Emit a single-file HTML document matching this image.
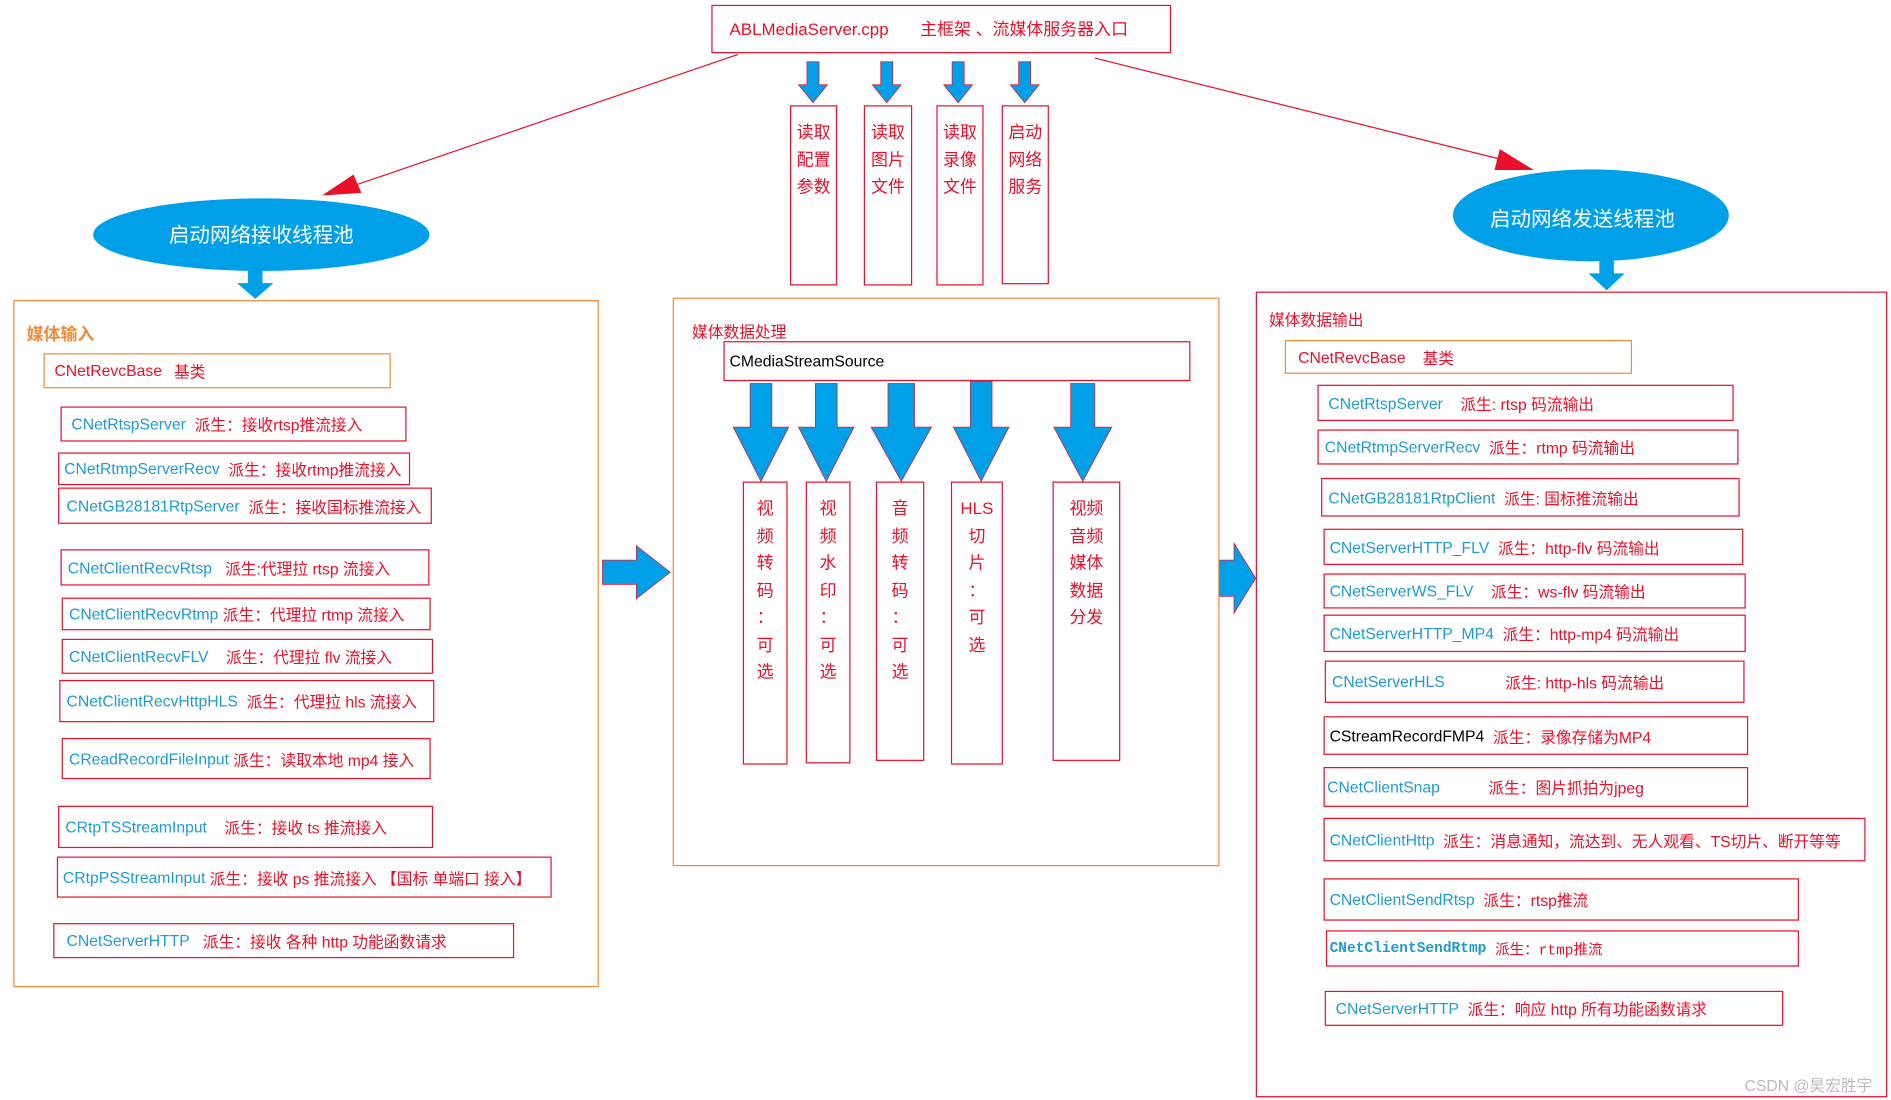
<!DOCTYPE html>
<html><head><meta charset="utf-8"><style>
html,body{margin:0;padding:0;background:#fff;width:1891px;height:1100px;overflow:hidden}
#s{position:absolute;left:0;top:0;width:1563px;height:909px;transform:scale(1.2098);transform-origin:0 0;font-family:"Liberation Sans","Noto Sans CJK SC",sans-serif}
.b{position:absolute;border:1px solid #e8102a;box-sizing:border-box;font-size:13px;white-space:nowrap;color:#e8102a;padding-left:8px;display:flex;align-items:center}
.o{border-color:#f08a3c}
.c{color:#1f9bd0}
.t{position:absolute;font-size:13px;white-space:nowrap}
.v{position:absolute;border:1px solid #e8102a;box-sizing:border-box;color:#e8102a;font-size:14px;text-align:center;line-height:22.5px;padding-top:10px}
svg{position:absolute;left:0;top:0}
</style></head><body><div id="s">
<svg width="1563" height="909">
<g fill="#00a0e9" stroke="#e8102a" stroke-width="0.6">
<path d="M667 51h10v19h7l-12 15-12-15h7z"/>
<path d="M728 51h10v19h7l-12 15-12-15h7z"/>
<path d="M787 51h10v19h7l-12 15-12-15h7z"/>
<path d="M842 51h10v19h7l-12 15-12-15h7z"/>
<path d="M620 317h18v36h14l-23 45-23-45h14z"/>
<path d="M674 317h18v36h14l-23 45-23-45h14z"/>
<path d="M734 317h22v36h14l-25 45-25-45h14z"/>
<path d="M802 315h18v38h14l-23 45-23-45h14z"/>
<path d="M885 317h20v36h14l-24 45-24-45h14z"/>
<path d="M498 463h28v-12l28 22-28 22v-12h-28z"/>
<path d="M1008 463h12v-14l18 29-18 29v-14h-12z"/>
</g>
<g fill="#00a0e9">
<path d="M205 224h12v10h9l-15 13-15-13h9z"/>
<path d="M1322 214h12v12h9l-15 14-15-14h9z"/>
<ellipse cx="216" cy="194" rx="139" ry="30"/>
<ellipse cx="1315" cy="178" rx="114" ry="38"/>
</g>
<g stroke="#e8102a" fill="#e8102a">
<line x1="610" y1="45" x2="285" y2="156" stroke-width="1"/>
<path d="M268 161l24-16 6 14z"/>
<line x1="905" y1="48" x2="1250" y2="134" stroke-width="1"/>
<path d="M1266 140l-26-16-4 16z"/>
</g>
<text x="216" y="200" fill="#fff" font-size="17" text-anchor="middle" font-family="Liberation Sans,Noto Sans CJK SC,sans-serif">启动网络接收线程池</text>
<text x="1308" y="187" fill="#fff" font-size="17" text-anchor="middle" font-family="Liberation Sans,Noto Sans CJK SC,sans-serif">启动网络发送线程池</text>
</svg>
<div class="b" style="left:588px;top:4px;width:380px;height:40px;font-size:14px;padding-left:14px">ABLMediaServer.cpp<span style="margin-left:26px">主框架 、流媒体服务器入口</span></div>
<div class="v" style="left:653px;top:87px;width:39px;height:149px">读取<br>配置<br>参数</div>
<div class="v" style="left:714px;top:87px;width:40px;height:149px">读取<br>图片<br>文件</div>
<div class="v" style="left:774px;top:87px;width:39px;height:149px">读取<br>录像<br>文件</div>
<div class="v" style="left:828px;top:87px;width:39px;height:148px">启动<br>网络<br>服务</div>

<div class="b o" style="left:11px;top:248px;width:484px;height:568px"></div>
<div class="t" style="left:22px;top:266px;color:#f08a3c;font-weight:bold;font-size:14px">媒体输入</div>
<div class="b o" style="left:36px;top:292px;width:287px;height:29px;color:#e8102a">CNetRevcBase<span style="margin-left:10px">基类</span></div>
<div class="b" style="left:50px;top:336px;width:286px;height:29px"><span class="c">CNetRtspServer</span>&nbsp; 派生：接收rtsp推流接入</div>
<div class="b" style="left:48px;top:374px;width:291px;height:27px;padding-left:4px"><span class="c">CNetRtmpServerRecv</span>&nbsp; 派生：接收rtmp推流接入</div>
<div class="b" style="left:48px;top:403px;width:309px;height:30px;padding-left:6px"><span class="c">CNetGB28181RtpServer</span>&nbsp; 派生：接收国标推流接入</div>
<div class="b" style="left:50px;top:454px;width:305px;height:30px;padding-left:5px"><span class="c">CNetClientRecvRtsp</span>&nbsp;&nbsp; 派生:代理拉 rtsp 流接入</div>
<div class="b" style="left:51px;top:494px;width:305px;height:27px;padding-left:5px"><span class="c">CNetClientRecvRtmp</span>&nbsp;派生：代理拉 rtmp 流接入</div>
<div class="b" style="left:51px;top:528px;width:307px;height:29px;padding-left:5px"><span class="c">CNetClientRecvFLV</span>&nbsp;&nbsp;&nbsp; 派生：代理拉 flv 流接入</div>
<div class="b" style="left:49px;top:562px;width:310px;height:35px;padding-left:5px"><span class="c">CNetClientRecvHttpHLS</span>&nbsp; 派生：代理拉 hls 流接入</div>
<div class="b" style="left:51px;top:610px;width:305px;height:34px;padding-left:5px"><span class="c">CReadRecordFileInput</span>&nbsp;派生：读取本地 mp4 接入</div>
<div class="b" style="left:48px;top:666px;width:310px;height:35px;padding-left:5px"><span class="c">CRtpTSStreamInput</span>&nbsp;&nbsp;&nbsp; 派生：接收 ts 推流接入</div>
<div class="b" style="left:47px;top:708px;width:409px;height:34px;padding-left:4px"><span class="c">CRtpPSStreamInput</span>&nbsp;派生：接收 ps 推流接入 【国标 单端口 接入】</div>
<div class="b" style="left:44px;top:763px;width:381px;height:29px;padding-left:10px"><span class="c">CNetServerHTTP</span>&nbsp;&nbsp; 派生：接收 各种 http 功能函数请求</div>

<div class="b o" style="left:556px;top:246px;width:452px;height:470px"></div>
<div class="t" style="left:572px;top:264px;color:#e8102a">媒体数据处理</div>
<div class="b" style="left:598px;top:282px;width:386px;height:33px;color:#000;padding-left:4px">CMediaStreamSource</div>
<div class="v" style="left:614px;top:398px;width:37px;height:234px">视<br>频<br>转<br>码<br>：<br>可<br>选</div>
<div class="v" style="left:666px;top:398px;width:37px;height:233px">视<br>频<br>水<br>印<br>：<br>可<br>选</div>
<div class="v" style="left:724px;top:398px;width:40px;height:231px">音<br>频<br>转<br>码<br>：<br>可<br>选</div>
<div class="v" style="left:786px;top:398px;width:43px;height:234px">HLS<br>切<br>片<br>：<br>可<br>选</div>
<div class="v" style="left:870px;top:398px;width:56px;height:231px">视频<br>音频<br>媒体<br>数据<br>分发</div>

<div class="b" style="left:1038px;top:241px;width:522px;height:666px"></div>
<div class="t" style="left:1049px;top:254px;color:#e8102a">媒体数据输出</div>
<div class="b o" style="left:1062px;top:281px;width:287px;height:28px;padding-left:10px">CNetRevcBase<span style="margin-left:14px">基类</span></div>
<div class="b" style="left:1089px;top:318px;width:344px;height:30px"><span class="c">CNetRtspServer</span>&nbsp;&nbsp;&nbsp; 派生: rtsp 码流输出</div>
<div class="b" style="left:1089px;top:355px;width:348px;height:29px;padding-left:5px"><span class="c">CNetRtmpServerRecv</span>&nbsp; 派生：rtmp 码流输出</div>
<div class="b" style="left:1092px;top:395px;width:346px;height:32px;padding-left:5px"><span class="c">CNetGB28181RtpClient</span>&nbsp; 派生: 国标推流输出</div>
<div class="b" style="left:1094px;top:437px;width:347px;height:30px;padding-left:4px"><span class="c">CNetServerHTTP_FLV</span>&nbsp; 派生：http-flv 码流输出</div>
<div class="b" style="left:1094px;top:474px;width:349px;height:29px;padding-left:4px"><span class="c">CNetServerWS_FLV</span>&nbsp;&nbsp;&nbsp; 派生：ws-flv 码流输出</div>
<div class="b" style="left:1094px;top:508px;width:349px;height:31px;padding-left:4px"><span class="c">CNetServerHTTP_MP4</span>&nbsp; 派生：http-mp4 码流输出</div>
<div class="b" style="left:1095px;top:546px;width:347px;height:35px;padding-left:5px"><span class="c">CNetServerHLS</span><span style="margin-left:50px">派生: http-hls 码流输出</span></div>
<div class="b" style="left:1094px;top:592px;width:351px;height:32px;padding-left:4px"><span style="color:#000">CStreamRecordFMP4</span>&nbsp; 派生：录像存储为MP4</div>
<div class="b" style="left:1094px;top:634px;width:351px;height:33px;padding-left:2px"><span class="c">CNetClientSnap</span><span style="margin-left:40px">派生：图片抓拍为jpeg</span></div>
<div class="b" style="left:1094px;top:676px;width:448px;height:36px;padding-left:4px"><span class="c">CNetClientHttp</span>&nbsp; 派生：消息通知，流达到、无人观看、TS切片、断开等等</div>
<div class="b" style="left:1094px;top:726px;width:393px;height:35px;padding-left:4px"><span class="c">CNetClientSendRtsp</span>&nbsp; 派生：rtsp推流</div>
<div class="b" style="left:1096px;top:769px;width:391px;height:30px;padding-left:2px;font-family:'Liberation Mono','Noto Sans CJK SC',monospace;font-size:12px"><b class="c">CNetClientSendRtmp</b>&nbsp;派生：rtmp推流</div>
<div class="b" style="left:1095px;top:819px;width:379px;height:29px"><span class="c">CNetServerHTTP</span>&nbsp; 派生：响应 http 所有功能函数请求</div>
<div class="t" style="left:1442px;top:887px;color:#bbb;font-size:13px">CSDN @昊宏胜宇</div>
</div></body></html>
